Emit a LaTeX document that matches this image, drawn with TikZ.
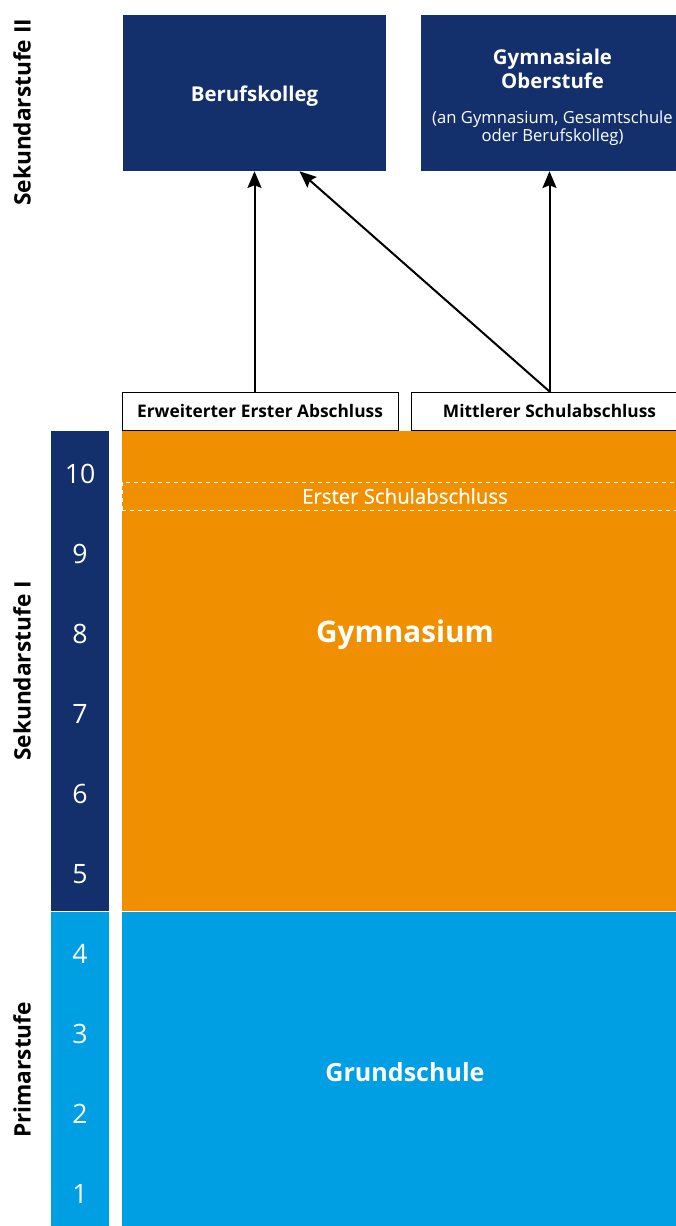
\documentclass[tikz,border=0pt]{standalone}
\usepackage{fontspec}
\setmainfont{Open Sans}
\newfontfamily\mediumfont[FakeBold=0.6]{Open Sans}
\usetikzlibrary{arrows.meta, positioning}
\definecolor{cnavy}{HTML}{13306C}
\definecolor{corange}{HTML}{F09000}
\definecolor{clight}{HTML}{009FE3}
\newlength{\unitpx}
\setlength{\unitpx}{0.75pt}
\newcommand\subfont{\fontsize{12.5}{13.5}\selectfont\mdseries}
\tikzset{
  every picture/.style={x=\unitpx, y=-\unitpx},
  block/.style={fill=#1, inner sep=0pt, minimum width=263\unitpx, minimum height=156\unitpx},
  block/.default=cnavy,
  blocktext/.style={text=white, align=center, inner sep=0pt, font=\fontsize{15.3}{18}\selectfont\bfseries},
  stage/.style={fill=#1, inner sep=0pt, minimum width=566\unitpx},
  grade/.style={fill=#1, inner sep=0pt, minimum width=58\unitpx},
  exam/.style={draw=black, fill=white, line width=1\unitpx, inner sep=0pt, minimum height=38\unitpx, font=\fontsize{13}{15}\selectfont\bfseries},
  arrow/.style={-{Stealth[length=12.5pt, width=10.5pt, inset=2pt]}, line width=1.5pt},
  side/.style={rotate=90, font=\fontsize{17}{19}\selectfont\bfseries},
  num/.style={text=white, font=\fontsize{20}{24}\selectfont},
}

\begin{document}
\begin{tikzpicture}
  \useasboundingbox (0,0) rectangle (675,1226);
  % Sekundarstufe II
  \node[block] (bk) at (254.5,93) {};
  \node[block] (go) at (552.5,93) {};
  \node[blocktext] (bkt) at ([yshift=-2pt]bk.center) {Berufskolleg};
  \node[blocktext] (got) at ([yshift=-3pt]go.center) {Gymnasiale\\Oberstufe\\[8.5pt]
    \subfont (an Gymnasium, Gesamtschule\\[-4.5pt]\subfont oder Berufskolleg)};
  % Abschluesse
  \node[exam, minimum width=276\unitpx] (eea) at (260,411) {Erweiterter Erster Abschluss};
  \node[exam, minimum width=277\unitpx] (msa) at (549.5,411) {Mittlerer Schulabschluss};
  \coordinate (bkin) at ([xshift=45\unitpx]bk.south);
  \draw[arrow] (bk.south |- eea.north) -- (bk.south);
  \draw[arrow] (msa.north) -- (bkin);
  \draw[arrow] (msa.north) -- (msa.north |- go.south);
  % Schulformen
  \node[stage=corange, minimum height=480\unitpx] (gym) at (405,671) {};
  \node[stage=clight, minimum height=320\unitpx] (gs) at (405,1072) {};
  \node[text=white, font=\fontsize{22.3}{26}\selectfont\bfseries] (gymt) at (405,635) {Gymnasium};
  \node[text=white, font=\fontsize{18.8}{22}\selectfont\bfseries] (gst) at (gs.center) {Grundschule};
  \node[draw=white, dashed, line width=1\unitpx, inner sep=0pt, minimum width=566\unitpx, minimum height=28\unitpx,
    text=white, font=\mediumfont\fontsize{15.3}{17}\selectfont] (esa) at (405,496) {Erster Schulabschluss};
  % Klassenstufen
  \node[grade=cnavy, minimum height=480\unitpx] (sek) at (80,671) {};
  \node[grade=clight, minimum height=320\unitpx] (prim) at (80,1072) {};
  \foreach \g in {1,...,10}
    \node[num] (k\g) at (80,1274-80*\g) {\g};
  % Stufen
  \node[side, anchor=east] (s2) at (22,14) {Sekundarstufe II};
  \node[side] (s1) at (22,671) {Sekundarstufe I};
  \node[side] (ps) at (22,1070) {Primarstufe};
\end{tikzpicture}
\end{document}
